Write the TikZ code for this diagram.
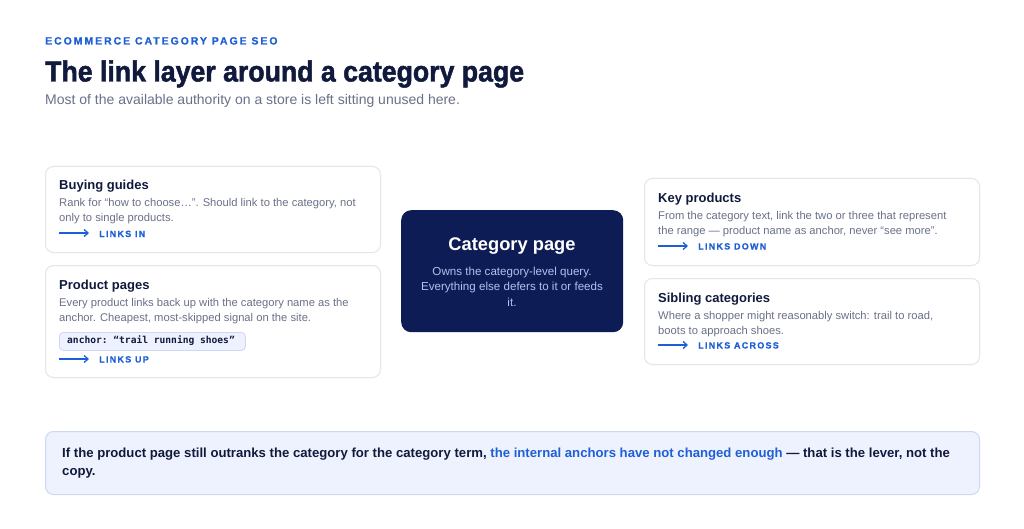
\documentclass[tikz,border=0pt]{standalone}
\usepackage{fontspec}
\setmainfont{Liberation Sans}
\setmonofont{DejaVu Sans Mono}
\newfontfamily\spacedfont[LetterSpace=14,FakeBold=0.6]{Liberation Sans}
\newfontfamily\eyebrowfont[LetterSpace=18.5,FakeBold=0.6]{Liberation Sans}
\newfontfamily\titlefont[FakeStretch=0.92,FakeBold=1.6]{Liberation Sans}
\usetikzlibrary{arrows.meta}
\definecolor{ink}{HTML}{111A3D}
\definecolor{accent}{HTML}{1F5FD6}
\definecolor{muted}{HTML}{6B7089}
\definecolor{cardline}{HTML}{E2E5EE}
\definecolor{catfill}{HTML}{0E1C55}
\definecolor{catbody}{HTML}{B3C0F0}
\definecolor{calfill}{HTML}{EEF2FE}
\definecolor{calline}{HTML}{CDD8F6}
\tikzset{
  card/.style={draw=cardline, line width=1pt, rounded corners=8pt, fill=white, anchor=north west, minimum width=335pt, inner sep=0pt},
  cardhead/.style={anchor=base west, inner sep=0pt, text=ink, font=\fontsize{13}{15}\selectfont\bfseries},
  cardbody/.style={anchor=base west, inner sep=0pt, text=muted, font=\fontsize{11.2}{13}\selectfont},
  catbodytext/.style={anchor=base, inner sep=0pt, text=catbody, font=\fontsize{11.6}{13}\selectfont},
  linklabel/.style={anchor=base west, inner sep=0pt, text=accent, font=\fontsize{9}{11}\selectfont\spacedfont\bfseries},
  linkarrow/.style={draw=accent, line width=1.3pt, -{Straight Barb[length=4pt,width=7pt]}},
}
\begin{document}
\begin{tikzpicture}[x=1pt,y=-1pt]
\useasboundingbox[fill=white] (0,0) rectangle (1024,529);

% header
\node[anchor=base west, inner sep=0pt, text=accent, font=\fontsize{10.5}{12}\selectfont\eyebrowfont\bfseries] (eyebrow) at (45,44.5) {ECOMMERCE CATEGORY PAGE SEO};
\node[anchor=base west, inner sep=0pt, text=ink, font=\fontsize{29}{32}\selectfont\titlefont\bfseries] (title) at (45,81.5) {The link layer around a category page};
\node[anchor=base west, inner sep=0pt, text=muted, font=\fontsize{14}{16}\selectfont] (subtitle) at (45,105) {Most of the available authority on a store is left sitting unused here.};

% Buying guides
\node[card, minimum height=86pt] (bg) at (45,166) {};
\node[cardhead] (bgT) at (59,190) {Buying guides};
\node[cardbody] (bgB1) at (59,207) {Rank for “how to choose…”. Should link to the category, not};
\node[cardbody] (bgB2) at (59,222) {only to single products.};
\coordinate (bgA1) at (59,233); \coordinate (bgA2) at (89,233);
\draw[linkarrow] (bgA1) -- (bgA2);
\node[linklabel] (bgL) at (99,237) {LINKS IN};

% Product pages
\node[card, minimum height=112pt] (pp) at (45,265) {};
\node[cardhead] (ppT) at (59,289) {Product pages};
\node[cardbody] (ppB1) at (59,306) {Every product links back up with the category name as the};
\node[cardbody] (ppB2) at (59,321) {anchor. Cheapest, most-skipped signal on the site.};
\node[draw=calline, fill=calfill, line width=0.8pt, rounded corners=4pt, anchor=north west, minimum width=186pt, minimum height=18pt, inner sep=0pt] (code) at (59,332) {};
\node[anchor=west, inner sep=0pt, text=ink, font=\fontsize{9.6}{11}\selectfont\ttfamily\bfseries] (codeT) at (67,341) {anchor: “trail running shoes”};
\coordinate (ppA1) at (59,359); \coordinate (ppA2) at (89,359);
\draw[linkarrow] (ppA1) -- (ppA2);
\node[linklabel] (ppL) at (99,362.5) {LINKS UP};

% Category page
\node[fill=catfill, rounded corners=10pt, anchor=north west, minimum width=222pt, minimum height=122pt, inner sep=0pt] (cat) at (401,210) {};
\node[anchor=base, inner sep=0pt, text=white, font=\fontsize{18.3}{20}\selectfont\bfseries] (catT) at (512,250.5) {Category page};
\node[catbodytext] (catB1) at (512,275) {Owns the category-level query.};
\node[catbodytext] (catB2) at (512,290) {Everything else defers to it or feeds};
\node[catbodytext] (catB3) at (512,306) {it.};

% Key products
\node[card, minimum height=87pt] (kp) at (644,178) {};
\node[cardhead] (kpT) at (658,203) {Key products};
\node[cardbody] (kpB1) at (658,220) {From the category text, link the two or three that represent};
\node[cardbody] (kpB2) at (658,235) {the range — product name as anchor, never “see more”.};
\coordinate (kpA1) at (658,246); \coordinate (kpA2) at (688,246);
\draw[linkarrow] (kpA1) -- (kpA2);
\node[linklabel] (kpL) at (698,249.5) {LINKS DOWN};

% Sibling categories
\node[card, minimum height=86pt] (sc) at (644,278) {};
\node[cardhead] (scT) at (658,302) {Sibling categories};
\node[cardbody] (scB1) at (658,319) {Where a shopper might reasonably switch: trail to road,};
\node[cardbody] (scB2) at (658,334) {boots to approach shoes.};
\coordinate (scA1) at (658,345); \coordinate (scA2) at (688,345);
\draw[linkarrow] (scA1) -- (scA2);
\node[linklabel] (scL) at (698,348.5) {LINKS ACROSS};

% Callout
\node[draw=calline, fill=calfill, line width=1pt, rounded corners=8pt, anchor=north west, minimum width=934pt, minimum height=63pt, inner sep=0pt] (callout) at (45,431) {};
\node[anchor=base west, inner sep=0pt, text=ink, font=\fontsize{13.15}{15}\selectfont\bfseries] (calL1) at (62,457.5) {If the product page still outranks the category for the category term, \textcolor{accent}{the internal anchors have not changed enough} — that is the lever, not the};
\node[anchor=base west, inner sep=0pt, text=ink, font=\fontsize{13.15}{15}\selectfont\bfseries] (calL2) at (62,475.5) {copy.};
\end{tikzpicture}
\end{document}
